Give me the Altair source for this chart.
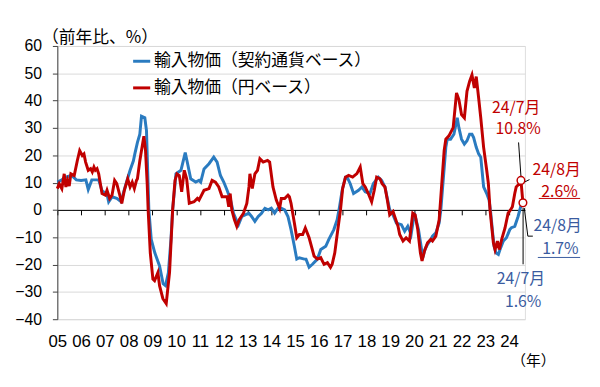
import altair as alt
import pandas as pd

# ---------------- data ----------------
name_blue = "輸入物価（契約通貨ベース）"
name_red = "輸入物価（円ベース）"

blue_t = [2005.00, 2005.15, 2005.35, 2005.60, 2005.80, 2006.00, 2006.20, 2006.30, 2006.45, 2006.74,
          2006.88, 2007.09, 2007.16, 2007.30, 2007.50, 2007.68, 2007.85, 2008.06, 2008.20, 2008.26,
          2008.37, 2008.47, 2008.54, 2008.68, 2008.75, 2008.85, 2008.95, 2009.10, 2009.30, 2009.45,
          2009.55, 2009.67, 2009.78, 2009.85, 2009.99, 2010.20, 2010.38, 2010.48, 2010.61, 2010.82,
          2010.96, 2011.03, 2011.17, 2011.38, 2011.58, 2011.72, 2011.86, 2012.00, 2012.14, 2012.27,
          2012.41, 2012.55, 2012.62, 2012.76, 2012.90, 2013.06, 2013.17, 2013.31, 2013.45, 2013.59,
          2013.73, 2013.87, 2014.00, 2014.14, 2014.28, 2014.42, 2014.56, 2014.70, 2014.83, 2014.97,
          2015.07, 2015.18, 2015.39, 2015.46, 2015.59, 2015.73, 2015.94, 2016.08, 2016.29, 2016.42,
          2016.63, 2016.77, 2016.87, 2016.98, 2017.12, 2017.19, 2017.32, 2017.46, 2017.67, 2017.81,
          2017.95, 2018.15, 2018.29, 2018.50, 2018.64, 2018.78, 2018.98, 2019.12, 2019.26, 2019.47,
          2019.61, 2019.74, 2019.88, 2020.02, 2020.09, 2020.19, 2020.30, 2020.37, 2020.46, 2020.57,
          2020.71, 2020.78, 2020.92, 2021.06, 2021.13, 2021.24, 2021.34, 2021.40, 2021.54, 2021.68,
          2021.82, 2021.89, 2022.00, 2022.12, 2022.23, 2022.34, 2022.44, 2022.51, 2022.62, 2022.72,
          2022.81, 2022.85, 2022.93, 2023.06, 2023.16, 2023.23, 2023.31, 2023.37, 2023.45, 2023.55,
          2023.62, 2023.76, 2023.89, 2024.03, 2024.10, 2024.24, 2024.38, 2024.50, 2024.583]
blue_v = [10.2, 10.8, 12.0, 12.6, 11.0, 10.8, 11.0, 7.5, 11.0, 11.0,
          7.0, 5.7, 3.0, 4.8, 4.2, 3.0, 8.4, 14.5, 18.0, 20.5,
          24.7, 27.7, 34.3, 33.7, 29.0, 0.0, -10.8, -15.7, -20.5, -27.0,
          -27.7, -23.0, -10.8, 0.0, 13.2, 14.5, 21.0, 16.9, 11.4, 10.2,
          10.8, 10.2, 15.0, 16.9, 19.3, 17.5, 12.6, 10.2, 7.2, 4.2,
          -1.2, -4.2, -5.4, -2.4, -1.8, -1.2, -2.4, -4.2, -2.4, -1.2,
          0.6, 0.0, 0.6, -1.2, 0.6, 0.6, 0.0, -2.4, -7.2, -13.3,
          -18.0, -17.5, -18.0, -18.0, -21.0, -19.9, -18.0, -14.5, -13.3, -10.8,
          -7.2, -3.6, 1.2, 7.2, 12.0, 12.0, 9.6, 6.0, 7.2, 8.4,
          6.6, 6.0, 9.6, 12.0, 10.8, 8.4, 0.0, -1.8, -4.8, -5.4,
          -7.8, -6.0, -9.0, -1.2, -3.6, -7.2, -13.3, -17.5, -14.5, -12.6,
          -10.8, -9.6, -8.4, -4.8, 0.0, 12.0, 22.9, 25.9, 25.9, 27.7,
          33.7, 30.1, 25.9, 24.1, 25.3, 27.7, 27.7, 26.5, 22.9, 20.5,
          19.3, 15.7, 8.4, 6.0, 3.6, -1.2, -8.4, -13.3, -15.7, -16.3,
          -14.5, -11.4, -10.2, -7.2, -6.5, -6.0, -2.4, 1.6, 1.7]

red_t = [2005.00, 2005.08, 2005.19, 2005.29, 2005.36, 2005.43, 2005.50, 2005.57, 2005.71, 2005.84,
         2005.94, 2006.05, 2006.12, 2006.19, 2006.30, 2006.40, 2006.47, 2006.54, 2006.60, 2006.67,
         2006.74, 2006.88, 2007.02, 2007.09, 2007.20, 2007.30, 2007.41, 2007.50, 2007.61, 2007.71,
         2007.82, 2007.96, 2008.06, 2008.15, 2008.24, 2008.33, 2008.37, 2008.47, 2008.54, 2008.64,
         2008.71, 2008.78, 2008.82, 2008.91, 2009.02, 2009.09, 2009.23, 2009.30, 2009.44, 2009.58,
         2009.72, 2009.85, 2009.95, 2010.03, 2010.13, 2010.23, 2010.34, 2010.44, 2010.55, 2010.75,
         2010.89, 2010.96, 2011.17, 2011.38, 2011.51, 2011.65, 2011.79, 2011.93, 2012.14, 2012.21,
         2012.27, 2012.34, 2012.45, 2012.55, 2012.65, 2012.83, 2012.97, 2013.06, 2013.10, 2013.20,
         2013.31, 2013.42, 2013.52, 2013.66, 2013.84, 2013.93, 2014.07, 2014.21, 2014.35, 2014.42,
         2014.56, 2014.70, 2014.76, 2014.83, 2014.97, 2015.07, 2015.18, 2015.32, 2015.43, 2015.59,
         2015.80, 2015.94, 2016.08, 2016.22, 2016.36, 2016.49, 2016.56, 2016.67, 2016.77, 2016.91,
         2017.00, 2017.12, 2017.25, 2017.42, 2017.60, 2017.74, 2017.85, 2017.95, 2018.08, 2018.22,
         2018.33, 2018.43, 2018.57, 2018.66, 2018.78, 2018.88, 2018.98, 2019.12, 2019.19, 2019.33,
         2019.40, 2019.54, 2019.67, 2019.81, 2019.95, 2020.05, 2020.16, 2020.27, 2020.34, 2020.44,
         2020.57, 2020.71, 2020.78, 2020.92, 2021.06, 2021.15, 2021.27, 2021.34, 2021.47, 2021.65,
         2021.79, 2021.89, 2022.00, 2022.12, 2022.23, 2022.34, 2022.44, 2022.54, 2022.62, 2022.72,
         2022.81, 2022.93, 2023.06, 2023.13, 2023.20, 2023.27, 2023.34, 2023.41, 2023.51, 2023.59,
         2023.69, 2023.83, 2023.96, 2024.06, 2024.14, 2024.24, 2024.30, 2024.42, 2024.50, 2024.583]
red_v = [7.8, 9.6, 7.8, 13.2, 8.4, 10.8, 8.7, 13.2, 12.6, 18.0,
         21.7, 19.9, 20.5, 17.5, 14.5, 15.1, 13.9, 15.7, 14.5, 15.1,
         13.2, 6.0, 5.4, 7.2, 4.2, 5.4, 10.8, 9.6, 6.0, 2.4,
         7.2, 11.4, 8.4, 10.2, 7.8, 10.8, 11.4, 18.0, 21.7, 27.0,
         21.7, 9.6, 0.0, -15.7, -25.3, -25.9, -22.9, -27.7, -32.5, -34.3,
         -22.9, 0.0, 10.8, 13.2, 12.6, 6.6, 14.5, 11.4, 2.4, 3.0,
         4.2, 3.6, 7.2, 7.8, 10.8, 10.2, 8.4, 4.8, 4.8, 1.2,
         6.0, 0.0, -3.6, -6.0, -3.6, -1.2, 2.4, 8.4, 13.2, 7.8,
         13.2, 14.5, 18.7, 17.5, 18.1, 17.5, 8.4, 3.6, 0.6, 4.2,
         4.2, 5.4, 4.8, 2.4, -4.8, -10.2, -9.0, -9.0, -6.6, -10.2,
         -16.9, -18.0, -17.5, -19.9, -19.3, -21.0, -19.9, -15.7, -9.0, 0.0,
         7.8, 12.0, 12.6, 12.0, 13.3, 15.7, 9.6, 8.4, 6.0, 3.0,
         7.2, 12.0, 11.4, 9.6, 8.4, 3.6, -1.8, -0.6, -2.4, -6.0,
         -9.0, -11.4, -10.2, -11.4, -1.2, -1.8, -7.2, -15.7, -18.7, -15.1,
         -12.0, -10.8, -11.4, -9.6, -3.6, 7.2, 21.7, 25.9, 27.1, 30.1,
         42.8, 40.4, 34.9, 33.7, 43.4, 47.0, 49.4, 44.6, 48.8, 41.0,
         33.7, 22.9, 14.5, 9.6, 0.0, -6.0, -12.0, -14.5, -11.4, -14.5,
         -10.8, -6.6, -1.2, 0.0, 1.2, 6.0, 8.4, 9.5, 10.8, 2.6]

years = list(range(2005, 2025))
y_ticks = list(range(-40, 61, 10))

# annotations
ann_red_text = ["24/7月", "10.8%", "24/8月", "2.6%"]
ann_red_t = [2024.30, 2024.38, 2026.00, 2026.12]
ann_red_v = [37.2, 29.6, 14.6, 6.7]
ann_blue_text = ["24/8月", "1.7%", "24/7月", "1.6%"]
ann_blue_t = [2026.04, 2026.16, 2024.50, 2024.59]
ann_blue_v = [-6.0, -14.5, -25.3, -33.6]

lead_t1 = [2024.50, 2024.65, 2024.59, 2024.64, 2024.79]
lead_v1 = [12.3, 10.2, 0.7, 0.7, -9.6]
lead_t2 = [2024.40, 2024.86, 2024.59, 2024.79, 2025.00]
lead_v2 = [24.7, 11.1, -19.9, -9.6, -9.6]

ul_red = {"t1": [2025.25], "t2": [2026.99], "v": [4.2]}
ul_blue = {"t1": [2025.21], "t2": [2026.99], "v": [-17.4]}

mk_t = [2024.50, 2024.583]
mk_v = [10.8, 2.6]

# ---------------- styling ----------------
BLUE = "#2a7bc0"
RED = "#c00000"
ANN_BLUE = "#3a5ba0"
JP = "Noto Sans CJK JP"
NUM = "Liberation Sans"

series = pd.DataFrame(
    {"t": blue_t + red_t,
     "v": blue_v + red_v,
     "series": [name_blue] * len(blue_t) + [name_red] * len(red_t)}
)

xscale = alt.Scale(domain=[2005, 2024.667], nice=False, zero=False)
yscale = alt.Scale(domain=[-40, 60], nice=False)

x_axis = alt.Axis(values=years, labelExpr="slice(toString(datum.value), 2)",
                  offset=-110.8, domain=True, domainColor="#000000", domainWidth=1,
                  ticks=True, tickSize=5, tickColor="#000000", grid=False,
                  labelPadding=120, labelFlush=False, labelOverlap=False, labelBound=False,
                  labelFont="Liberation Sans Narrow, Liberation Sans", labelFontSize=17,
                  labelColor="#000000",
                  title="（年）", titleFont=JP, titleFontSize=15, titleFontWeight="normal",
                  titleX=482, titleY=153, titleAlign="center", titleBaseline="middle",
                  titleColor="#000000")
y_axis = alt.Axis(values=y_ticks, grid=True, gridColor="#d9d9d9", gridWidth=1,
                  labelOverlap=False,
                  domainColor="#404040", tickColor="#404040", tickSize=5,
                  labelFont=NUM, labelFontSize=16, labelPadding=11, labelColor="#000000",
                  title="（前年比、%）", titleFont=JP, titleFontSize=17,
                  titleFontWeight="normal", titleAngle=0, titleX=-16, titleY=-9,
                  titleAlign="left", titleBaseline="middle", titleColor="#000000")


def X(field):
    return alt.X(field, scale=xscale, axis=x_axis)


def Y(field):
    return alt.Y(field, scale=yscale, axis=y_axis)


lines = alt.Chart(series).mark_line(strokeWidth=3).encode(
    x=X("t:Q"),
    y=Y("v:Q"),
    color=alt.Color("series:N",
                    scale=alt.Scale(domain=[name_blue, name_red], range=[BLUE, RED]),
                    legend=alt.Legend(orient="none", legendX=75, legendY=5, title=None,
                                      direction="vertical", symbolType="stroke",
                                      symbolSize=300, symbolStrokeWidth=3,
                                      labelFont=JP, labelFontSize=17, labelColor="#000000",
                                      labelLimit=400, rowPadding=8, labelOffset=2, padding=0)),
    order=alt.Order("t:Q"),
)

lead_df = pd.DataFrame({"t": lead_t1, "v": lead_v1, "t2": lead_t2, "v2": lead_v2})
leads = alt.Chart(lead_df).mark_rule(color="#000000", strokeWidth=1).encode(
    x=X("t:Q"), y=Y("v:Q"), x2="t2:Q", y2="v2:Q")

mk_df = pd.DataFrame({"t": mk_t, "v": mk_v})
markers = alt.Chart(mk_df).mark_point(shape="circle", filled=True, fill="#ffffff",
                                      stroke=RED, strokeWidth=1.5, size=60, opacity=1).encode(
    x=X("t:Q"), y=Y("v:Q"))


def ann_layer(texts, ts, vs, color):
    df = pd.DataFrame({"text": texts, "t": ts, "v": vs})
    return alt.Chart(df).mark_text(font=JP, fontSize=16, color=color, align="center",
                                   baseline="middle").encode(
        x=X("t:Q"), y=Y("v:Q"), text="text:N")


def ul_layer(d, color):
    df = pd.DataFrame({"t": d["t1"], "t2": d["t2"], "v": d["v"]})
    return alt.Chart(df).mark_rule(color=color, strokeWidth=1).encode(
        x=X("t:Q"), x2="t2:Q", y=Y("v:Q"))


chart = alt.layer(
    lines, leads, markers,
    ann_layer(ann_red_text, ann_red_t, ann_red_v, RED),
    ann_layer(ann_blue_text, ann_blue_t, ann_blue_v, ANN_BLUE),
    ul_layer(ul_red, RED), ul_layer(ul_blue, ANN_BLUE),
).properties(
    width=474, height=277,
    autosize=alt.AutoSizeParams(type="none"),
    padding={"left": 50, "top": 36, "right": 68, "bottom": 50},
).configure_view(stroke=None).configure(background="#ffffff")

chart.save("out.html", embed_options={"renderer": "svg", "actions": False})
